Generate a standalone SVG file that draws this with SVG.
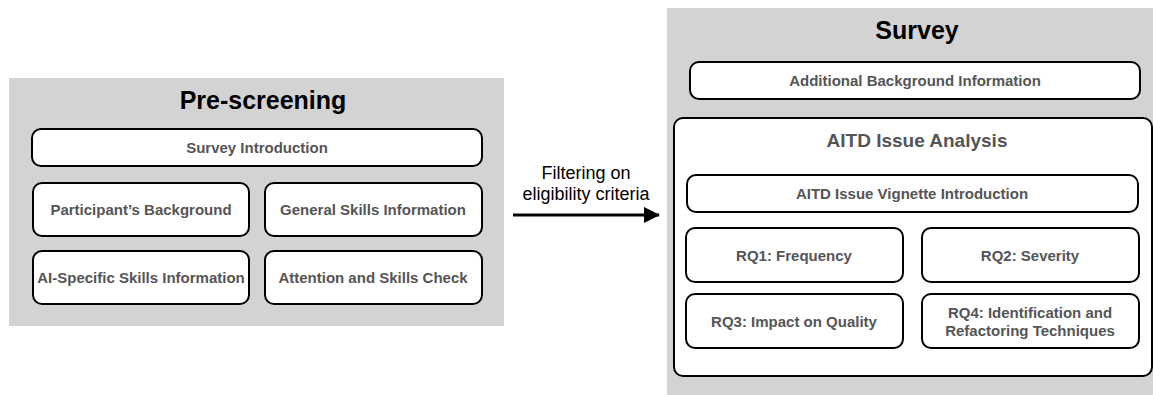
<svg xmlns="http://www.w3.org/2000/svg" width="1153" height="395" viewBox="0 0 1153 395">
<defs>
<style>
.panel{fill:#d3d3d3;stroke:none}
.box{fill:#fff;stroke:#000;stroke-width:2}
.lbl{font-family:"Liberation Sans",Arial,sans-serif;font-weight:bold;font-size:15px;fill:#555;text-anchor:middle}
.title{font-family:"Liberation Sans",Arial,sans-serif;font-weight:bold;font-size:25px;fill:#000;text-anchor:middle}
.sub{font-family:"Liberation Sans",Arial,sans-serif;font-weight:bold;font-size:19px;fill:#555;text-anchor:middle}
.edge{font-family:"Liberation Sans",Arial,sans-serif;font-size:18px;fill:#000;text-anchor:middle}
</style>
<marker id="ah" markerWidth="16" markerHeight="16" refX="15" refY="8" orient="auto" markerUnits="userSpaceOnUse">
<path d="M0,0 L16,8 L0,16 z" fill="#000"/>
</marker>
</defs>
<rect width="1153" height="395" fill="#fff"/>
<g id="prescreening">
<rect class="panel" x="9" y="78" width="495" height="248"/>
<text class="title" x="263" y="109">Pre-screening</text>
</g>
<g id="survey-introduction">
<rect class="box" x="32" y="129" width="450" height="37" rx="9"/>
<text class="lbl" x="257" y="153">Survey Introduction</text>
</g>
<g id="participants-background">
<rect class="box" x="33" y="183" width="216" height="53" rx="9"/>
<text class="lbl" x="141" y="215">Participant’s Background</text>
</g>
<g id="general-skills">
<rect class="box" x="265" y="183" width="217" height="53" rx="9"/>
<text class="lbl" x="373" y="215">General Skills Information</text>
</g>
<g id="ai-specific-skills">
<rect class="box" x="33" y="251" width="216" height="53" rx="9"/>
<text class="lbl" x="141" y="283">AI-Specific Skills Information</text>
</g>
<g id="attention-check">
<rect class="box" x="265" y="251" width="217" height="53" rx="9"/>
<text class="lbl" x="373" y="283">Attention and Skills Check</text>
</g>
<g id="survey">
<rect class="panel" x="667" y="8" width="486" height="387"/>
<text class="title" x="917" y="39">Survey</text>
</g>
<g id="additional-background">
<rect class="box" x="690" y="62" width="450" height="37" rx="9"/>
<text class="lbl" x="915" y="86">Additional Background Information</text>
</g>
<g id="aitd-issue-analysis">
<rect class="box" x="674" y="118" width="478" height="258" rx="9"/>
<text class="sub" x="917" y="147">AITD Issue Analysis</text>
</g>
<g id="vignette-introduction">
<rect class="box" x="687" y="175" width="451" height="37" rx="9"/>
<text class="lbl" x="912" y="199">AITD Issue Vignette Introduction</text>
</g>
<g id="rq1">
<rect class="box" x="686" y="228" width="217" height="54" rx="9"/>
<text class="lbl" x="794" y="261">RQ1: Frequency</text>
</g>
<g id="rq2">
<rect class="box" x="922" y="228" width="217" height="54" rx="9"/>
<text class="lbl" x="1030" y="261">RQ2: Severity</text>
</g>
<g id="rq3">
<rect class="box" x="686" y="294" width="217" height="54" rx="9"/>
<text class="lbl" x="794" y="327">RQ3: Impact on Quality</text>
</g>
<g id="rq4">
<rect class="box" x="922" y="294" width="217" height="54" rx="9"/>
<text class="lbl" x="1030" y="318">RQ4: Identification and</text>
<text class="lbl" x="1030" y="336">Refactoring Techniques</text>
</g>
<g id="connectors">
<line x1="513" y1="215" x2="659" y2="215" stroke="#000" stroke-width="3" marker-end="url(#ah)"/>
<text class="edge" x="586" y="179">Filtering on</text>
<text class="edge" x="586" y="200">eligibility criteria</text>
</g>
</svg>
